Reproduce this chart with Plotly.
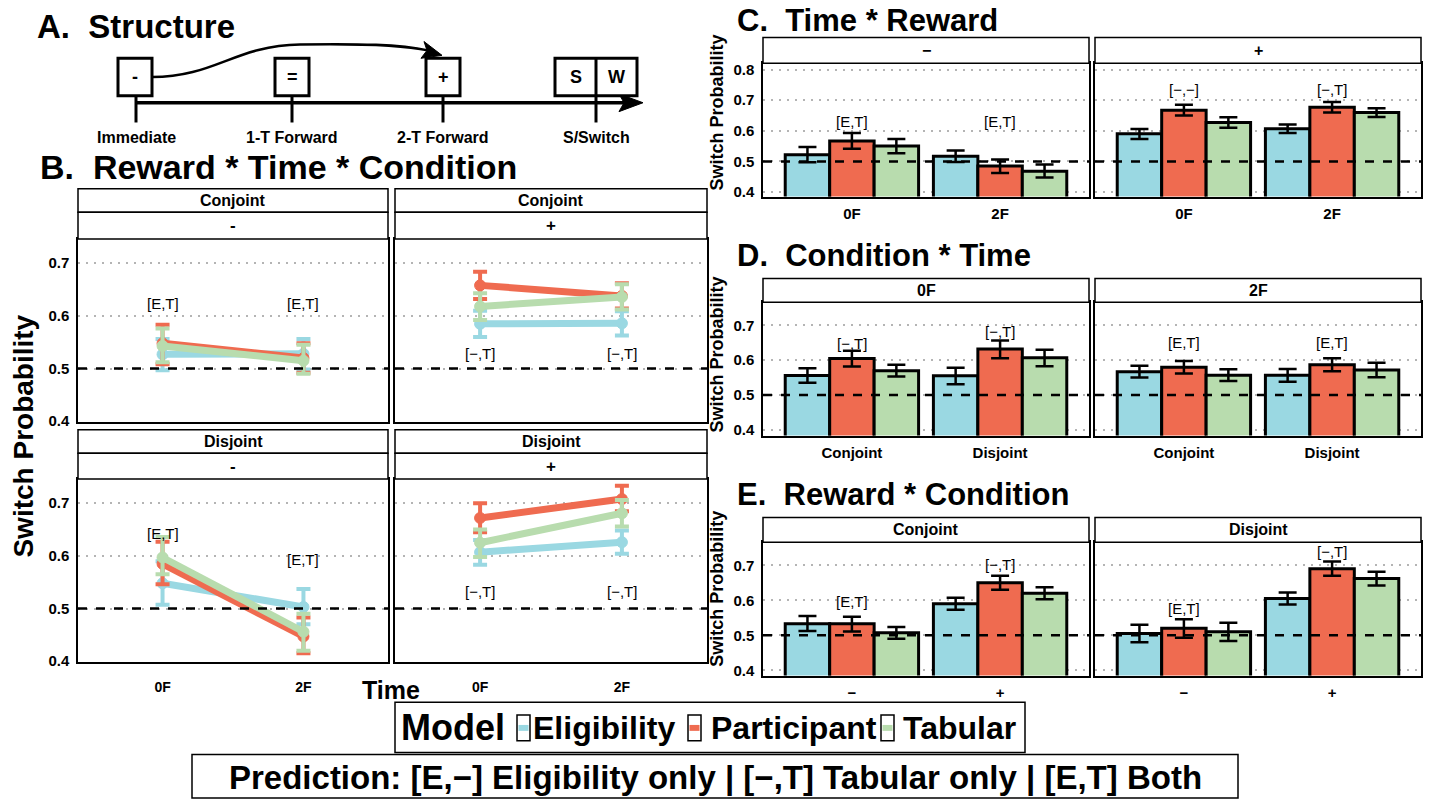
import plotly.graph_objects as go

W, H = 1429, 808
FONT = "Liberation Sans, Arial, Helvetica, sans-serif"

# ---------------- data ----------------
MODELS = ["Eligibility", "Participant", "Tabular"]
MODEL_COLORS = ["#9ad8e2", "#ef6b50", "#b8dcae"]
TIMES = ["0F", "2F"]
CONDITIONS = ["Conjoint", "Disjoint"]
REWARD_LABELS = ["−", "+"]
Y_TICKS = [0.4, 0.5, 0.6, 0.7, 0.8]

# Panel B (Reward * Time * Condition): per model [0F, 2F]
B_CONJ_NEG_MEAN = [[0.527, 0.528], [0.548, 0.520], [0.543, 0.515]]
B_CONJ_NEG_LO = [[0.497, 0.498], [0.508, 0.492], [0.512, 0.490]]
B_CONJ_NEG_HI = [[0.556, 0.556], [0.583, 0.548], [0.576, 0.545]]
B_CONJ_POS_MEAN = [[0.585, 0.586], [0.658, 0.638], [0.618, 0.636]]
B_CONJ_POS_LO = [[0.560, 0.563], [0.632, 0.614], [0.592, 0.612]]
B_CONJ_POS_HI = [[0.610, 0.609], [0.684, 0.662], [0.643, 0.660]]
B_DISJ_NEG_MEAN = [[0.548, 0.503], [0.585, 0.447], [0.597, 0.456]]
B_DISJ_NEG_LO = [[0.507, 0.470], [0.546, 0.415], [0.565, 0.420]]
B_DISJ_NEG_HI = [[0.590, 0.537], [0.627, 0.483], [0.636, 0.490]]
B_DISJ_POS_MEAN = [[0.607, 0.626], [0.672, 0.708], [0.625, 0.681]]
B_DISJ_POS_LO = [[0.583, 0.604], [0.645, 0.685], [0.598, 0.656]]
B_DISJ_POS_HI = [[0.630, 0.648], [0.700, 0.733], [0.650, 0.706]]
B_LABELS = [["[E,T]", "[E,T]"], ["[−,T]", "[−,T]"], ["[E,T]", "[E,T]"], ["[−,T]", "[−,T]"]]
B_LABEL_Y = [[0.624, 0.624], [0.528, 0.528], [0.643, 0.593], [0.533, 0.533]]

# Panel C (Time * Reward): per model [0F, 2F]
C_NEG_MEAN = [[0.522, 0.517], [0.567, 0.485], [0.550, 0.468]]
C_NEG_LO = [[0.497, 0.498], [0.541, 0.462], [0.527, 0.447]]
C_NEG_HI = [[0.547, 0.536], [0.593, 0.506], [0.573, 0.490]]
C_POS_MEAN = [[0.590, 0.607], [0.667, 0.677], [0.627, 0.660]]
C_POS_LO = [[0.573, 0.593], [0.650, 0.660], [0.610, 0.645]]
C_POS_HI = [[0.606, 0.621], [0.685, 0.694], [0.644, 0.674]]
C_LABELS = [["[E,T]", "[E,T]"], ["[−,−]", "[−,T]"]]
C_LABEL_Y = [[0.630, 0.630], [0.734, 0.734]]

# Panel D (Condition * Time): per model [Conjoint, Disjoint]
D_0F_MEAN = [[0.556, 0.555], [0.605, 0.632], [0.570, 0.607]]
D_0F_LO = [[0.535, 0.531], [0.582, 0.606], [0.553, 0.583]]
D_0F_HI = [[0.577, 0.578], [0.627, 0.657], [0.587, 0.630]]
D_2F_MEAN = [[0.567, 0.557], [0.580, 0.587], [0.557, 0.572]]
D_2F_LO = [[0.550, 0.538], [0.562, 0.568], [0.540, 0.551]]
D_2F_HI = [[0.584, 0.575], [0.598, 0.606], [0.574, 0.593]]
D_LABELS = [["[−,T]", "[−,T]"], ["[E,T]", "[E,T]"]]
D_LABEL_Y = [[0.648, 0.682], [0.651, 0.651]]

# Panel E (Reward * Condition): per model [-, +]
E_CONJ_MEAN = [[0.533, 0.590], [0.533, 0.650], [0.507, 0.620]]
E_CONJ_LO = [[0.512, 0.573], [0.511, 0.630], [0.490, 0.603]]
E_CONJ_HI = [[0.555, 0.607], [0.553, 0.670], [0.524, 0.637]]
E_DISJ_MEAN = [[0.505, 0.605], [0.520, 0.690], [0.510, 0.662]]
E_DISJ_LO = [[0.480, 0.588], [0.493, 0.670], [0.484, 0.642]]
E_DISJ_HI = [[0.530, 0.622], [0.546, 0.711], [0.536, 0.682]]
E_LABELS = [["[E,T]", "[−,T]"], ["[E,T]", "[−,T]"]]
E_LABEL_Y = [[0.597, 0.702], [0.577, 0.740]]

# ---------------- helpers ----------------
def px(x):
    return x / W


def py(y):
    return 1 - y / H


fig = go.Figure()
layout = dict(
    width=W, height=H, margin=dict(l=0, r=0, t=0, b=0),
    paper_bgcolor="white", plot_bgcolor="white",
    font=dict(family=FONT, color="black"),
    showlegend=False, barmode="group", bargap=0.1, bargroupgap=0.0,
)
shapes = []
annotations = []


def text(x, y, s, size, bold=True, xanchor="center", yanchor="middle", angle=0):
    annotations.append(dict(
        x=px(x), y=py(y), xref="paper", yref="paper", text=s, showarrow=False,
        xanchor=xanchor, yanchor=yanchor, textangle=angle,
        font=dict(family=FONT, size=size, color="black", weight="bold" if bold else "normal"),
    ))


def rect(x0, y0, x1, y1, lw=1.5, fill="white", color="black"):
    shapes.append(dict(type="rect", xref="paper", yref="paper",
                       x0=px(x0), x1=px(x1), y0=py(y1), y1=py(y0),
                       line=dict(color=color, width=lw), fillcolor=fill, layer="above"))


def line(x0, y0, x1, y1, lw=3):
    shapes.append(dict(type="line", xref="paper", yref="paper",
                       x0=px(x0), x1=px(x1), y0=py(y0), y1=py(y1),
                       line=dict(color="black", width=lw), layer="above"))


def path(points_cmd, fill=None, lw=3):
    shapes.append(dict(type="path", xref="paper", yref="paper", path=points_cmd,
                       line=dict(color="black", width=lw),
                       fillcolor=fill if fill else "rgba(0,0,0,0)", layer="above"))


def P(x, y):
    return f"{px(x):.5f},{py(y):.5f}"


axis_count = [0]


def add_axes(xpx, ypx, yrange, cats, show_y, show_x, xfont=15, xstand=3):
    axis_count[0] += 1
    i = axis_count[0]
    sfx = "" if i == 1 else str(i)
    layout["xaxis" + sfx] = dict(
        domain=[px(xpx[0]), px(xpx[1])], anchor="y" + sfx, type="category",
        categoryorder="array", categoryarray=cats, range=[-0.6, len(cats) - 0.4],
        showline=True, mirror=True, linecolor="black", linewidth=1.5,
        showgrid=False, zeroline=False, ticks="", showticklabels=show_x,
        ticklabelstandoff=xstand,
        tickfont=dict(family=FONT, size=xfont, weight="bold", color="black"),
        fixedrange=True,
    )
    layout["yaxis" + sfx] = dict(
        domain=[py(ypx[1]), py(ypx[0])], anchor="x" + sfx, range=yrange,
        tickmode="array", tickvals=Y_TICKS, ticktext=[f"{v:.1f}" for v in Y_TICKS],
        showline=True, mirror=True, linecolor="black", linewidth=1.5,
        showgrid=True, gridcolor="#b4b4b4", griddash="2px,6px", gridwidth=1.5,
        zeroline=False, ticks="", showticklabels=show_y, ticklabelstandoff=4,
        tickfont=dict(family=FONT, size=15, weight="bold", color="black"),
        fixedrange=True,
    )
    shapes.append(dict(type="line", xref=f"x{sfx} domain", yref="y" + sfx,
                       x0=0, x1=1, y0=0.5, y1=0.5,
                       line=dict(color="black", width=2.5, dash="dash"), layer="above"))
    return "x" + sfx, "y" + sfx


def add_bar_panel(xa, ya, cats, mean, lo, hi, labels, label_y):
    for m, name in enumerate(MODELS):
        fig.add_trace(go.Bar(
            x=cats, y=mean[m], name=name, xaxis=xa, yaxis=ya,
            marker=dict(color=MODEL_COLORS[m], line=dict(color="black", width=3)),
            error_y=dict(type="data", symmetric=False,
                         array=[h - v for h, v in zip(hi[m], mean[m])],
                         arrayminus=[v - l for v, l in zip(mean[m], lo[m])],
                         color="black", thickness=2.5, width=9),
            offsetgroup=str(m), showlegend=False,
        ))
    for c, lab, ly in zip(cats, labels, label_y):
        annotations.append(dict(x=c, y=ly, xref=xa, yref=ya, text=lab, showarrow=False,
                                font=dict(family=FONT, size=15, color="black")))


def add_line_panel(xa, ya, mean, lo, hi, labels, label_y):
    for m, name in enumerate(MODELS):
        fig.add_trace(go.Scatter(
            x=TIMES, y=mean[m], name=name, xaxis=xa, yaxis=ya, mode="lines+markers",
            line=dict(color=MODEL_COLORS[m], width=7),
            marker=dict(color=MODEL_COLORS[m], size=11,
                        line=dict(color=MODEL_COLORS[m], width=1)),
            error_y=dict(type="data", symmetric=False,
                         array=[h - v for h, v in zip(hi[m], mean[m])],
                         arrayminus=[v - l for v, l in zip(mean[m], lo[m])],
                         color=MODEL_COLORS[m], thickness=4, width=7),
            showlegend=False,
        ))
    for c, lab, ly in zip(TIMES, labels, label_y):
        annotations.append(dict(x=c, y=ly, xref=xa, yref=ya, text=lab, showarrow=False,
                                font=dict(family=FONT, size=15, color="black")))


# ---------------- Panel A: structure diagram ----------------
text(35, 25, "A.\u00a0\u00a0Structure", 33, xanchor="left")
line(136, 102, 628, 102, lw=3.5)
path(f"M {P(643,102)} L {P(619,93)} L {P(624,102)} L {P(619,111)} Z", fill="black", lw=1)
boxes = [(118, 152, "-"), (275, 309, "="), (426, 460, "+")]
for x0, x1, s in boxes:
    rect(x0, 57, x1, 95, lw=3)
    text((x0 + x1) / 2, 76, s, 18)
rect(555, 57, 637, 95, lw=3)
line(596, 57, 596, 95, lw=3)
text(575.5, 76, "S", 18)
text(616.5, 76, "W", 18)
for xc, lab in [(136, "Immediate"), (292, "1-T Forward"), (443, "2-T Forward"), (596, "S/Switch")]:
    line(xc, 95, xc, 122, lw=3)
    text(xc, 137, lab, 16)
path(f"M {P(152,76)} C {P(215,76)} {P(235,44)} {P(300,43)} C {P(360,42)} {P(400,43)} {P(428,49)}", lw=2.5)
path(f"M {P(442,54)} L {P(424,40)} L {P(427,49)} L {P(421,57)} Z", fill="black", lw=1)

# ---------------- Panel B ----------------
text(38, 167, "B.\u00a0\u00a0Reward * Time * Condition", 34, xanchor="left")
text(24, 440, "Switch Probability", 28, angle=-90)
text(391, 697, "Time", 25)
B_COLS = [(78, 388), (395, 707)]
B_ROWS = [(189, 213, 240, 425), (433, 457, 483, 668)]
B_DATA = [
    (B_CONJ_NEG_MEAN, B_CONJ_NEG_LO, B_CONJ_NEG_HI),
    (B_CONJ_POS_MEAN, B_CONJ_POS_LO, B_CONJ_POS_HI),
    (B_DISJ_NEG_MEAN, B_DISJ_NEG_LO, B_DISJ_NEG_HI),
    (B_DISJ_POS_MEAN, B_DISJ_POS_LO, B_DISJ_POS_HI),
]
B_STRIP_REWARD = ["-", "+"]
k = 0
for r, (s0, s1, p0, p1) in enumerate(B_ROWS):
    for c, (x0, x1) in enumerate(B_COLS):
        xa, ya = add_axes((x0, x1), (p0, p1), [0.399, 0.746], TIMES, c == 0, r == 1,
                          xfont=14, xstand=12)
        mean, lo, hi = B_DATA[k]
        add_line_panel(xa, ya, mean, lo, hi, B_LABELS[k], B_LABEL_Y[k])
        rect(x0, s0, x1, s1, lw=1.5)
        rect(x0, s1, x1, p0, lw=1.5)
        text((x0 + x1) / 2, (s0 + s1) / 2, CONDITIONS[r], 16)
        text((x0 + x1) / 2, (s1 + p0) / 2, B_STRIP_REWARD[c], 17)
        k += 1

# ---------------- Panels C, D, E ----------------
RIGHT_COLS = [(763, 1089), (1095, 1421)]
panels = [
    dict(title="C.\u00a0\u00a0Time * Reward", ty=19, strip=(36, 62), plot=(62, 197),
         yr=[0.385, 0.821], cats=TIMES, strips=REWARD_LABELS,
         data=[(C_NEG_MEAN, C_NEG_LO, C_NEG_HI), (C_POS_MEAN, C_POS_LO, C_POS_HI)],
         labels=C_LABELS, label_y=C_LABEL_Y, ylab=112),
    dict(title="D.\u00a0\u00a0Condition * Time", ty=257, strip=(280, 304), plot=(304, 439),
         yr=[0.383, 0.767], cats=CONDITIONS, strips=TIMES,
         data=[(D_0F_MEAN, D_0F_LO, D_0F_HI), (D_2F_MEAN, D_2F_LO, D_2F_HI)],
         labels=D_LABELS, label_y=D_LABEL_Y, ylab=357),
    dict(title="E.\u00a0\u00a0Reward * Condition", ty=499, strip=(522, 547), plot=(547, 682),
         yr=[0.385, 0.766], cats=REWARD_LABELS, strips=CONDITIONS,
         data=[(E_CONJ_MEAN, E_CONJ_LO, E_CONJ_HI), (E_DISJ_MEAN, E_DISJ_LO, E_DISJ_HI)],
         labels=E_LABELS, label_y=E_LABEL_Y, ylab=594),
]
for pnl in panels:
    text(735, pnl["ty"], pnl["title"], 31, xanchor="left")
    text(717, pnl["ylab"], "Switch Probability", 18, angle=-90)
    for c, (x0, x1) in enumerate(RIGHT_COLS):
        xa, ya = add_axes((x0, x1), pnl["plot"], pnl["yr"], pnl["cats"], c == 0, True)
        mean, lo, hi = pnl["data"][c]
        add_bar_panel(xa, ya, pnl["cats"], mean, lo, hi, pnl["labels"][c], pnl["label_y"][c])
        rect(x0, pnl["strip"][0], x1, pnl["strip"][1], lw=1.5)
        text((x0 + x1) / 2, sum(pnl["strip"]) / 2, pnl["strips"][c], 16)

# ---------------- Legend ----------------
rect(395, 709, 1025, 760, lw=1.5)
text(399, 735, "Model", 36, xanchor="left")
legend_keys = [(517, 604), (688, 794), (881, 959)]
for m, (kx, tx) in enumerate(legend_keys):
    rect(kx, 722, kx + 13, 748, lw=1.5)
    rect(kx + 1.5, 732, kx + 11.5, 738, lw=0, fill=MODEL_COLORS[m], color=MODEL_COLORS[m])
    text(tx, 735, MODELS[m], 32)
rect(192, 762, 1238, 806, lw=1.5)
text(715, 785, "Prediction: [E,−] Eligibility only | [−,T] Tabular only | [E,T] Both", 33)

layout["shapes"] = shapes
layout["annotations"] = annotations
fig.update_layout(**layout)
fig.write_html("out.html")
